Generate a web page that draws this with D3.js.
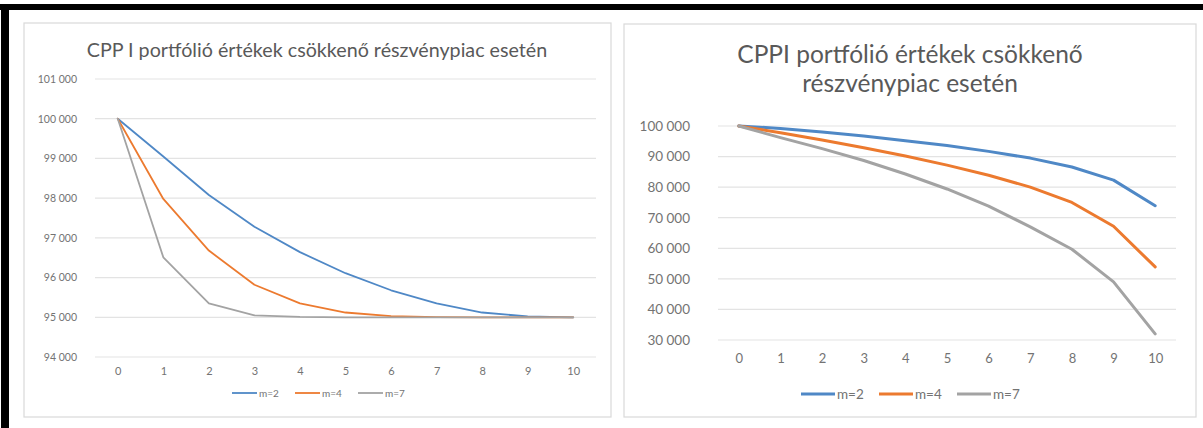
<!DOCTYPE html>
<html>
<head>
<meta charset="utf-8">
<script src="https://cdn.jsdelivr.net/npm/d3@7"></script>
<style>
  body { margin: 0; background: #fff; }
  svg { display: block; font-family: Lato, "Open Sans", sans-serif; }
</style>
</head>
<body>
<svg id="chart" width="1203" height="428"></svg>
<script>
const periods = ["0", "1", "2", "3", "4", "5", "6", "7", "8", "9", "10"]
const seriesNames = ["m=2", "m=4", "m=7"]
const colors = ["#4f88c6", "#ec7a2f", "#a3a3a3"]

// left chart: values near the floor
const leftM2 = [100000, 99050, 98080, 97280, 96640, 96110, 95680, 95350, 95120, 95020, 95000]
const leftM4 = [100000, 97980, 96680, 95820, 95350, 95120, 95030, 95005, 95000, 95000, 95000]
const leftM7 = [100000, 96510, 95350, 95050, 95010, 95000, 95000, 95000, 95000, 95000, 95000]
const leftTicks = [94000, 95000, 96000, 97000, 98000, 99000, 100000, 101000]

// right chart: falling market
const rightM2 = [100000, 99200, 98000, 96700, 95200, 93600, 91700, 89500, 86600, 82300, 73900]
const rightM4 = [100000, 97800, 95400, 92900, 90200, 87200, 83900, 80000, 75000, 67200, 53900]
const rightM7 = [100000, 96200, 92600, 88700, 84300, 79400, 73800, 67000, 59700, 49000, 32000]
const rightTicks = [30000, 40000, 50000, 60000, 70000, 80000, 90000, 100000]

const svg = d3.select("#chart")
const fmt = (v) => d3.format(",")(v).replace(",", " ")

// black frame on top and left
svg.append("rect").attr("x", 0).attr("y", 4).attr("width", 1203).attr("height", 6).attr("fill", "#000")
svg.append("rect").attr("x", 1).attr("y", 4).attr("width", 8).attr("height", 424).attr("fill", "#000")

function drawChart(opt) {
  const g = svg.append("g")

  g.append("rect")
    .attr("x", opt.box[0]).attr("y", opt.box[1])
    .attr("width", opt.box[2]).attr("height", opt.box[3])
    .attr("fill", "#fff").attr("stroke", "#d9d9d9").attr("stroke-width", 1.2)

  const x = d3.scalePoint().domain(periods).range(opt.xRange).padding(0.5)
  const y = d3.scaleLinear().domain(opt.yDomain).range(opt.yRange)

  // gridlines
  g.append("g")
    .selectAll("line")
    .data(opt.ticks)
    .join("line")
    .attr("x1", opt.xRange[0]).attr("x2", opt.xRange[1])
    .attr("y1", (d) => y(d)).attr("y2", (d) => y(d))
    .attr("stroke", "#e3e3e3").attr("stroke-width", 1.2)

  const yAxis = d3.axisLeft(y).tickValues(opt.ticks).tickFormat(fmt).tickSize(0).tickPadding(opt.yPad)
  g.append("g")
    .attr("transform", `translate(${opt.xRange[0]},0)`)
    .call(yAxis)
    .call((a) => a.select(".domain").remove())
    .selectAll("text")
    .attr("fill", "#737373").style("font-size", opt.yFont + "px").style("font-family", "Lato, sans-serif")

  const xAxis = d3.axisBottom(x).tickSize(0).tickPadding(opt.xPad)
  g.append("g")
    .attr("transform", `translate(0,${opt.yRange[0]})`)
    .call(xAxis)
    .call((a) => a.select(".domain").remove())
    .selectAll("text")
    .attr("fill", "#737373").style("font-size", opt.xFont + "px").style("font-family", "Lato, sans-serif")

  const line = d3.line().x((d, i) => x(periods[i])).y((d) => y(d))
  opt.series.forEach((s, i) => {
    g.append("path")
      .datum(s)
      .attr("d", line)
      .attr("fill", "none")
      .attr("stroke", colors[i])
      .attr("stroke-width", opt.lineWidth)
      .attr("stroke-linejoin", "round")
      .attr("stroke-linecap", "round")
  })

  // title
  const title = g.append("text")
    .attr("text-anchor", "middle")
    .attr("fill", "#595959")
    .style("font-size", opt.titleSize + "px")
  opt.title.forEach((t, i) => {
    title.append("tspan").attr("x", opt.titleX).attr("y", opt.titleY + i * opt.titleGap).text(t)
  })

  // legend
  const leg = g.append("g").attr("transform", `translate(${opt.legendX},${opt.legendY})`)
  seriesNames.forEach((name, i) => {
    const item = leg.append("g").attr("transform", `translate(${i * opt.legendStep},0)`)
    item.append("line")
      .attr("x1", 0).attr("x2", opt.legendLine)
      .attr("stroke", colors[i]).attr("stroke-width", opt.lineWidth)
    item.append("text")
      .attr("x", opt.legendLine + 2).attr("dy", "0.35em")
      .attr("fill", "#737373").style("font-size", opt.legendFont + "px")
      .text(name)
  })
}

drawChart({
  box: [24, 23, 587, 394],
  xRange: [95, 596],
  yDomain: [94000, 101000],
  yRange: [357, 79],
  ticks: leftTicks,
  yPad: 18, yFont: 10.5, xPad: 10, xFont: 11,
  series: [leftM2, leftM4, leftM7],
  lineWidth: 1.8,
  title: ["CPP I portfólió értékek csökkenő részvénypiac esetén"],
  titleX: 317, titleY: 57, titleGap: 0, titleSize: 19.7,
  legendX: 232, legendY: 393, legendStep: 63, legendLine: 25, legendFont: 10
})

drawChart({
  box: [624, 24, 572, 393],
  xRange: [718, 1176],
  yDomain: [30000, 100000],
  yRange: [340, 126],
  ticks: rightTicks,
  yPad: 28, yFont: 13.5, xPad: 14, xFont: 13,
  series: [rightM2, rightM4, rightM7],
  lineWidth: 3,
  title: ["CPPI portfólió értékek csökkenő", "részvénypiac esetén"],
  titleX: 910, titleY: 63, titleGap: 29, titleSize: 24.5,
  legendX: 801, legendY: 394, legendStep: 78, legendLine: 34, legendFont: 13.5
})
</script>
</body>
</html>
